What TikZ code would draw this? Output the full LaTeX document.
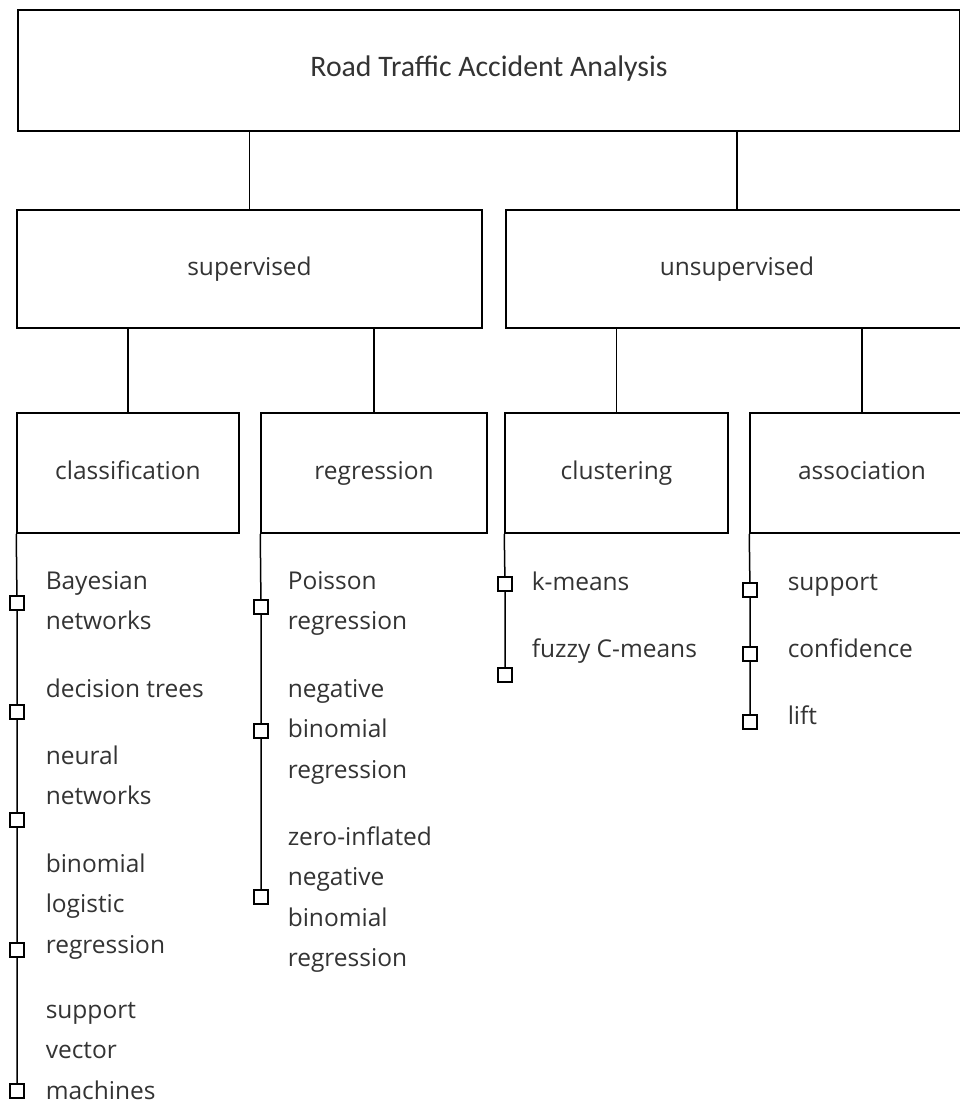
\documentclass[tikz,border=0pt]{standalone}
\usepackage{fontspec}
\setmainfont{Open Sans}
\newfontfamily\titlefont{Carlito}
\usetikzlibrary{positioning}

\begin{document}
\begin{tikzpicture}[x=1pt,y=-1pt,line width=1.5pt,
	box/.style={draw,rectangle,inner sep=0pt,text=black!80,text height=17pt,text depth=5pt,font=\fontsize{24.5}{28}\selectfont},
	item/.style={anchor=base west,align=left,inner sep=0pt,text=black!80,font=\fontsize{24.5}{40.5}\selectfont},
	sq/.style={draw,rectangle,fill=white,minimum size=14pt,inner sep=0pt,line width=1.3pt}]
	\useasboundingbox (0,0) rectangle (960,1104);
	% boxes
	\node [box,minimum width=942pt,minimum height=121pt,font=\titlefont\fontsize{29.8}{32}\selectfont] (root) at (489,70.5) {Road Traffic Accident Analysis};
	\node [box,minimum width=465pt,minimum height=118pt] (sup) at (249.5,269) {supervised};
	\node [box,minimum width=462pt,minimum height=118pt] (unsup) at (737,269) {unsupervised};
	\node [box,minimum width=222pt,minimum height=120pt] (cls) at (128,473) {classification};
	\node [box,minimum width=226pt,minimum height=120pt] (reg) at (374,473) {regression};
	\node [box,minimum width=223pt,minimum height=120pt] (clu) at (616.5,473) {clustering};
	\node [box,minimum width=224pt,minimum height=120pt] (ass) at (862,473) {association};
	\draw (sup.north) -- (sup.north |- root.south) (unsup.north) -- (unsup.north |- root.south);
	\draw (cls.north) -- (cls.north |- sup.south) (reg.north) -- (reg.north |- sup.south);
	\draw (clu.north) -- (clu.north |- unsup.south) (ass.north) -- (ass.north |- unsup.south);
	% classification (base = last line)
	\node [item] (bn) at (45,629.5) {Bayesian\\networks};
	\node [item] (dt) at (45,697) {decision trees};
	\node [item] (nn) at (45,804.5) {neural\\networks};
	\node [item] (blr) at (45,953) {binomial\\logistic\\regression};
	\node [item] (svm) at (45,1099) {support\\vector\\machines};
	\foreach \y/\n in {603/c1,712/c2,820/c3,950/c4,1091/c5} \node [sq] (\n) at (17,\y) {};
	\draw (cls.south west) -- (c1) (c1) -- (c2) (c2) -- (c3) (c3) -- (c4) (c4) -- (c5);
	% regression
	\node [item] (pr) at (287,629.5) {Poisson\\regression};
	\node [item] (nbr) at (287,778) {negative\\binomial\\regression};
	\node [item] (zinb) at (287,966.5) {zero-inflated\\negative\\binomial\\regression};
	\foreach \y/\n in {607/r1,731/r2,897/r3} \node [sq] (\n) at (261,\y) {};
	\draw (reg.south west) -- (r1) (r1) -- (r2) (r2) -- (r3);
	% clustering
	\node [item] (km) at (531,590) {k-means};
	\node [item] (fcm) at (531,657) {fuzzy C-means};
	\foreach \y/\n in {584/k1,675/k2} \node [sq] (\n) at (505,\y) {};
	\draw (clu.south west) -- (k1) (k1) -- (k2);
	% association
	\node [item] (spt) at (787,590) {support};
	\node [item] (conf) at (787,657) {confidence};
	\node [item] (lift) at (787,724) {lift};
	\foreach \y/\n in {590/a1,654/a2,722/a3} \node [sq] (\n) at (750,\y) {};
	\draw (ass.south west) -- (a1) (a1) -- (a2) (a2) -- (a3);
\end{tikzpicture}
\end{document}
